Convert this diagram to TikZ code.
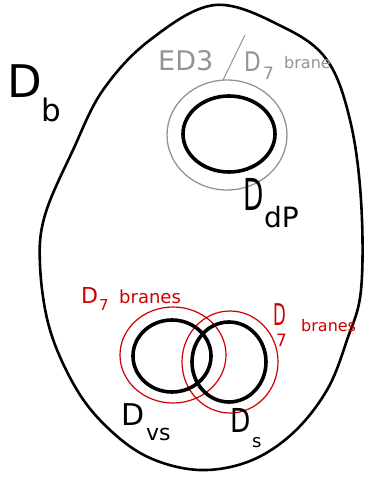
\documentclass[tikz,border=0pt]{standalone}
\usepackage{fontspec}
\setmainfont{DejaVu Sans}
\newcommand{\fs}[1]{\fontsize{#1}{#1}\selectfont}
\begin{document}
\begin{tikzpicture}[x=1pt,y=-1pt,
  outer/.style={line width=2.6pt,black},
  thick/.style={line width=3.6pt,black},
  grayring/.style={line width=1.3pt,gray!85},
  redring/.style={line width=1.2pt,red!80!black},
  txt/.style={inner sep=0pt,anchor=base west},
  gtxt/.style={txt,text=gray!85},
  rtxt/.style={txt,text=red!80!black}]
\useasboundingbox (0,0) rectangle (366,478);
% outer boundary D_b
\draw[outer] plot[smooth cycle,tension=0.6] coordinates {(215,5) (283,27) (327,60) (350,120) (361,200) (361,290) (347,340) (327,390) (293,433) (250,461) (200,470) (150,458) (110,430) (77,390) (50,330) (40,265) (45,215) (73,150) (103,90) (150,40)};
\node[txt,font=\fs{45}] (Db) at (7,98) {D};
\node[txt,font=\fs{31}] (Dbs) at (41,122) {b};
% dP divisor with ED3 / D7
\draw[grayring] (227,135) ellipse [x radius=60,y radius=55];
\draw[thick] (229,134) ellipse [x radius=46,y radius=38];
\node[gtxt,font=\fs{27}] (ed3) at (158,71) {ED3};
\coordinate (sl1) at (223,80);
\coordinate (sl2) at (245,35);
\draw[gray!85,line width=1pt] (sl1) -- (sl2);
\node[gtxt,font=\fs{27},xscale=0.8] (d7a) at (244,72) {D};
\node[gtxt,font=\fs{17}] (d7as) at (263,80) {7};
\node[gtxt,font=\fs{16}] (brane) at (284,69) {brane};
\node[txt,font=\fs{44},xscale=0.6] (Ddp) at (243,210) {D};
\node[txt,font=\fs{28}] (Ddps) at (264,227) {dP};
% D7 branes on D_vs and D_s
\draw[redring] (173,355) ellipse [x radius=53,y radius=48];
\draw[redring] (230,362) ellipse [x radius=48,y radius=51];
\draw[thick] (172,356) ellipse [x radius=39,y radius=36];
\draw[thick] (229,362) ellipse [x radius=37,y radius=40];
\node[rtxt,font=\fs{22}] (r1) at (81,303) {D};
\node[rtxt,font=\fs{15}] (r1s) at (99,310) {7};
\node[rtxt,font=\fs{18}] (r1b) at (119,303) {branes};
\node[rtxt,font=\fs{30},xscale=0.55] (r2) at (273,325) {D};
\node[rtxt,font=\fs{17}] (r2s) at (276,346) {7};
\node[rtxt,font=\fs{16}] (r2b) at (301,331) {branes};
\node[txt,font=\fs{30}] (Dvs) at (121,425) {D};
\node[txt,font=\fs{22}] (Dvss) at (146,440) {vs};
\node[txt,font=\fs{33},xscale=0.8] (Ds) at (230,432) {D};
\node[txt,font=\fs{18}] (Dss) at (252,447) {s};
\end{tikzpicture}
\end{document}
